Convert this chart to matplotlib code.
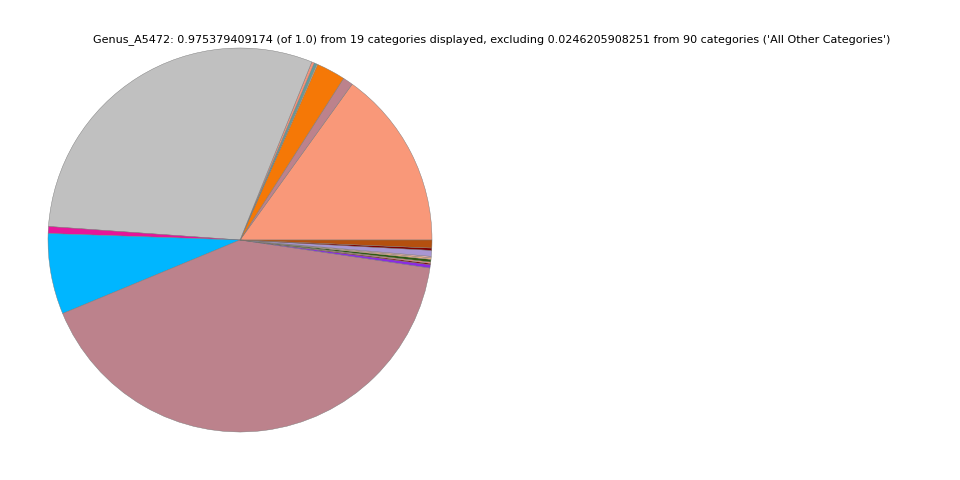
import matplotlib
matplotlib.use("Agg")
import matplotlib.pyplot as plt

# slice sizes (degrees, converted to fractions of total 0.975379409174)
degrees = [54.3, 3.1, 8.8, 0.3, 0.8, 0.8, 108.0, 2.1, 24.5, 149.2,
           1.0, 0.4, 0.4, 0.8, 0.5, 0.4, 1.8, 0.7, 2.4]
total_shown = 0.975379409174
values = [d / sum(degrees) * total_shown for d in degrees]
colors = ["#f99879", "#bc828c", "#f57806", "#f0c080", "#5f9ea0", "#f4937a",
          "#c0c0c0", "#e6159a", "#00b6ff", "#bc828c",
          "#8a2be2", "#800000", "#f4937a", "#2f5a10", "#e8b080", "#f5b5b5",
          "#a896d2", "#800000", "#b4500f"]
title = ("Genus_A5472: 0.975379409174 (of 1.0) from 19 categories displayed, "
         "excluding 0.0246205908251 from 90 categories ('All Other Categories')")

fig = plt.figure(figsize=(9.6, 4.8), dpi=100)
ax = fig.add_axes([48/960, 48/480, 384/960, 384/480])
ax.pie(values, colors=colors, startangle=0, counterclock=True,
       wedgeprops=dict(edgecolor="#777777", linewidth=0.3), normalize=True)
ax.set_xlim(-1, 1)
ax.set_ylim(-1, 1)
ax.set_aspect("equal")
ax.axis("off")
fig.text(492/960, 1 - 40/480, title, ha="center", va="center", fontsize=8)
fig.savefig("out.png", dpi=100)
